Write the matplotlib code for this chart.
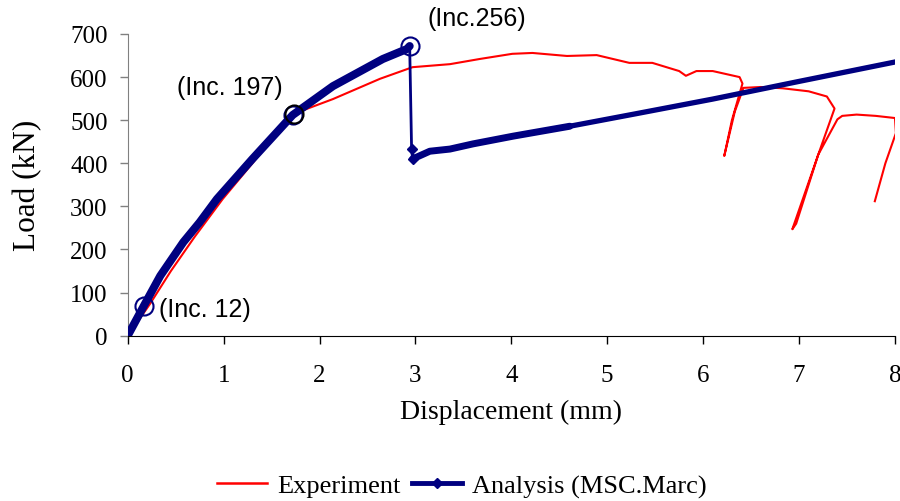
import matplotlib
matplotlib.use("Agg")
import matplotlib.pyplot as plt
from matplotlib.lines import Line2D

# Experiment (red)
exp_x = [0.0, 0.08, 0.23, 0.45, 0.7, 0.99, 1.3, 1.72, 2.14, 2.63, 2.97, 3.36, 3.67, 4.01, 4.22, 4.58,
         4.89, 5.23, 5.47, 5.75, 5.82, 5.93, 6.10, 6.38, 6.41, 6.30, 6.22, 6.33, 6.42, 6.60, 6.83, 7.10,
         7.29, 7.37, 7.20, 6.93, 6.97, 7.20, 7.40, 7.45, 7.60, 7.80, 8.00, 8.01, 7.90, 7.79]
exp_y = [0, 25, 73, 150, 230, 317, 400, 514, 549, 596, 623, 630, 642, 654, 656, 649,
         651, 633, 633, 614, 603, 614, 614, 600, 585, 500, 417, 520, 575, 577, 574, 567,
         555, 527, 420, 247, 260, 420, 502, 510, 513, 510, 505, 470, 400, 312]

# Analysis MSC.Marc (navy)
ana_x = [0.0, 0.17, 0.34, 0.58, 0.75, 0.93, 1.3, 1.72, 2.14, 2.66, 2.91, 2.94, 2.96, 2.97, 3.15, 3.36,
         3.6, 4.02, 4.61, 5.3, 6.1, 7.0, 8.0]
ana_y = [0, 70, 139, 217, 263, 317, 410, 512, 579, 642, 665, 672, 433, 410, 428, 433,
         445, 463, 486, 515, 549, 590, 635]

# Highlighted increments
inc_labels = ["(Inc. 12)", "(Inc. 197)", "(Inc.256)"]
inc_x = [0.17, 1.72, 2.94]
inc_y = [70, 512, 672]

xticks = [0, 1, 2, 3, 4, 5, 6, 7, 8]
yticks = [0, 100, 200, 300, 400, 500, 600, 700]

NAVY = "#000080"
RED = "#FF0000"
serif = ["Liberation Serif", "DejaVu Serif"]
sans = ["Liberation Sans", "DejaVu Sans"]

fig = plt.figure(figsize=(9, 5.02), dpi=100)
ax = fig.add_axes([0.1419, 0.3293, 0.8525, 0.6010])

ax.plot(exp_x, exp_y, color=RED, lw=1.5, zorder=2)

# thin full analysis line
ax.plot(ana_x, ana_y, color=NAVY, lw=2.0, zorder=3)
# dense-marker appearance: thick overlay before peak and after drop
ax.plot(ana_x[:12], ana_y[:12], color=NAVY, lw=5.8, solid_capstyle="round", zorder=3)
ax.plot(ana_x[13:19], ana_y[13:19], color=NAVY, lw=5.0, solid_capstyle="round", zorder=3)
ax.plot(ana_x[18:], ana_y[18:], color=NAVY, lw=3.8, zorder=3)
ax.plot(ana_x[12:14], ana_y[12:14], color=NAVY, lw=0, marker="D", ms=5, zorder=4)

# increment circles
ax.plot(inc_x, inc_y, linestyle="none", marker="o", ms=13, mfc="none", mec=NAVY, mew=1.5,
        zorder=5, clip_on=False)
ax.plot([inc_x[1] + 0.015], [inc_y[1] + 2], linestyle="none", marker="o", ms=13, mfc="none",
        mec="black", mew=1.5, zorder=5)

ax.annotate(inc_labels[0], (inc_x[0], inc_y[0]), xytext=(11, -2.5), textcoords="offset points",
            fontsize=18, family=sans, ha="left", va="center", annotation_clip=False)
ax.annotate(inc_labels[1], (inc_x[1], inc_y[1]), xytext=(-7, 20), textcoords="offset points",
            fontsize=18, family=sans, ha="right", va="center", annotation_clip=False)
ax.annotate(inc_labels[2], (inc_x[2], inc_y[2]), xytext=(12.5, 20), textcoords="offset points",
            fontsize=18, family=sans, ha="left", va="center", annotation_clip=False)

ax.set_xlim(0, 8)
ax.set_ylim(0, 700)
ax.set_xticks(xticks)
ax.set_yticks(yticks)
ax.set_xticklabels([str(t) for t in xticks], family=serif, fontsize=18)
ax.set_yticklabels([str(t) for t in yticks], family=serif, fontsize=18)
ax.tick_params(direction="out", length=5.5, width=1)
ax.tick_params(axis="y", colors="#808080", labelcolor="black", pad=9)
ax.tick_params(axis="x", colors="black", labelcolor="black", pad=15)
for s in ["top", "right"]:
    ax.spines[s].set_visible(False)
ax.spines["left"].set_color("#808080")
ax.spines["bottom"].set_color("black")

ax.set_xlabel("Displacement (mm)", family=serif, fontsize=20, labelpad=9)
ax.set_ylabel("Load (kN)", family=serif, fontsize=22.5, labelpad=20)

handles = [Line2D([], [], color=RED, lw=1.8),
           Line2D([], [], color=NAVY, lw=3.5, marker="D", ms=5)]
fig.legend(handles, ["Experiment", "Analysis (MSC.Marc)"], loc="center",
           bbox_to_anchor=(0.513, 0.03), ncol=2, frameon=False,
           prop={"family": serif, "size": 19}, handlelength=1.9, handletextpad=0.38,
           columnspacing=0.45)

fig.savefig("out.png", dpi=100)
